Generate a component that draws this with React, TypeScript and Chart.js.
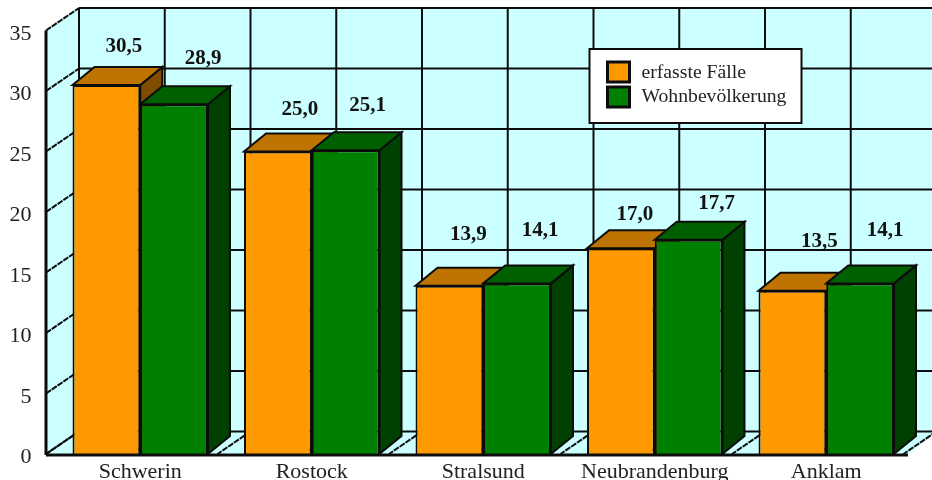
import React, { useEffect, useRef } from "react";
import { Chart, registerables } from "chart.js";

Chart.register(...registerables);

const cities = ["Schwerin", "Rostock", "Stralsund", "Neubrandenburg", "Anklam"];
const erfassteFaelle = [30.5, 25.0, 13.9, 17.0, 13.5];
const wohnbevoelkerung = [28.9, 25.1, 14.1, 17.7, 14.1];
const seriesNames = ["erfasste Fälle", "Wohnbevölkerung"];

// Value captions sit at hand-set distances from each bar's top-centre.
const captionShiftA = [[17.5, -38], [22, -41.5], [19, -51], [14, -34], [27, -49.5]];
const captionShiftB = [[29, -46], [22, -45], [23, -53], [28, -36], [25, -53]];

const FONT = "'Liberation Serif', serif";
const WALL = "#ccffff";
const INK = "#0c0c0c";
const FACES = [
  { front: "#ff9900", top: "#bf7300", side: "#804d00" },
  { front: "#008000", top: "#006000", side: "#004000" },
];

const fillPoly = (ctx: CanvasRenderingContext2D, pts: number[][], fill: string) => {
  ctx.beginPath();
  pts.forEach(([x, y], i) => (i ? ctx.lineTo(x, y) : ctx.moveTo(x, y)));
  ctx.closePath();
  ctx.fillStyle = fill;
  ctx.fill();
  ctx.strokeStyle = INK;
  ctx.lineWidth = 2;
  ctx.stroke();
};

const line = (ctx: CanvasRenderingContext2D, x1: number, y1: number, x2: number, y2: number) => {
  ctx.beginPath();
  ctx.moveTo(x1, y1);
  ctx.lineTo(x2, y2);
  ctx.stroke();
};

// Scales keep an exact size here, with no extra room for overhanging tick labels.
const fixedBox = (size: Partial<{ width: number; height: number }>) => (s: any) => {
  Object.assign(s, size);
  s.paddingTop = s.paddingBottom = s.paddingLeft = s.paddingRight = 0;
};

// Box back wall, left wall and floor with their grid, all derived from the scales.
const roomPlugin = {
  id: "room",
  beforeDatasetsDraw(chart: any) {
    const { ctx, chartArea: a, scales } = chart;
    const dx = 33;
    const dy = 22.5;
    const yTop = scales.y.getPixelForValue(35);
    const yBase = scales.y.getPixelForValue(0);
    const frontL = a.left - 8.5;
    const frontR = a.right - 4;
    const backL = frontL + dx;
    const backR = a.right + 24;
    const halfStep = (scales.x.getPixelForValue(1) - scales.x.getPixelForValue(0)) / 2;

    ctx.save();
    ctx.fillStyle = WALL;
    ctx.fillRect(backL, yTop - dy, backR - backL, yBase - yTop);
    ctx.beginPath();
    ctx.moveTo(frontL, yTop);
    ctx.lineTo(backL, yTop - dy);
    ctx.lineTo(backL, yBase - dy);
    ctx.lineTo(backR, yBase - dy);
    ctx.lineTo(frontR, yBase + 1);
    ctx.lineTo(frontL, yBase + 1);
    ctx.closePath();
    ctx.fill();

    ctx.strokeStyle = INK;
    ctx.lineWidth = 2;
    scales.y.ticks.forEach((t: any) => {
      const y = scales.y.getPixelForValue(t.value);
      line(ctx, backL, y - dy, backR, y - dy);
      ctx.setLineDash([6, 1]);
      line(ctx, frontL, y, backL, y - dy);
      ctx.setLineDash([]);
    });
    for (let k = 0; k <= 10; k++) {
      const x = backL + k * halfStep;
      line(ctx, x, yTop - dy, x, yBase - dy);
      ctx.setLineDash([6, 1]);
      line(ctx, x, yBase - dy, x - dx, yBase);
      ctx.setLineDash([]);
    }
    ctx.lineWidth = 3;
    line(ctx, frontL, yTop, frontL, yBase + 1);
    ctx.restore();
    ctx.save();

    // Extruded top and side faces of each bar, series by series.
    const bx = 22;
    const by = 18;
    chart.data.datasets.forEach((_: any, di: number) => {
      chart.getDatasetMeta(di).data.forEach((bar: any) => {
        const l = bar.x - bar.width / 2;
        const r = bar.x + bar.width / 2;
        const t = bar.y;
        const b = bar.base;
        fillPoly(ctx, [[r, t], [r + bx, t - by], [r + bx, b - by], [r, b]], FACES[di].side);
        fillPoly(ctx, [[l, t], [l + bx, t - by], [r + bx, t - by], [r, t]], FACES[di].top);
      });
    });
    ctx.restore();
  },
  afterDatasetsDraw(chart: any) {
    const { ctx, chartArea: a, scales } = chart;
    const yBase = scales.y.getPixelForValue(0);
    ctx.save();
    ctx.strokeStyle = INK;
    ctx.lineWidth = 3;
    line(ctx, a.left - 8.5, yBase + 1, a.right - 4, yBase + 1);

    // Value captions with a decimal comma.
    ctx.font = `bold 21px ${FONT}`;
    ctx.fillStyle = "#111";
    ctx.textAlign = "center";
    ctx.textBaseline = "middle";
    [captionShiftA, captionShiftB].forEach((shifts, di) => {
      chart.getDatasetMeta(di).data.forEach((bar: any, i: number) => {
        const text = chart.data.datasets[di].data[i].toFixed(1).replace(".", ",");
        ctx.fillText(text, bar.x + shifts[i][0], bar.y + shifts[i][1]);
      });
    });

    // Legend box placed on the back wall.
    const lx = a.left + 535;
    const ly = 49;
    ctx.fillStyle = "#fff";
    ctx.lineWidth = 2;
    ctx.fillRect(lx, ly, 212, 74);
    ctx.strokeRect(lx, ly, 212, 74);
    ctx.font = `19.7px ${FONT}`;
    ctx.textAlign = "left";
    chart.data.datasets.forEach((ds: any, di: number) => {
      const y = ly + 24 + di * 24;
      ctx.fillStyle = ds.backgroundColor;
      ctx.lineWidth = 3;
      ctx.fillRect(lx + 18, y - 11 + di, 22, 20);
      ctx.strokeRect(lx + 18, y - 11 + di, 22, 20);
      ctx.fillStyle = "#222";
      ctx.fillText(ds.label, lx + 52, y);
    });
    ctx.restore();
  },
};

export default function App() {
  const ref = useRef<HTMLCanvasElement>(null);

  useEffect(() => {
    const chart = new Chart(ref.current!, {
      type: "bar",
      data: {
        labels: cities,
        datasets: [
          { label: seriesNames[0], data: erfassteFaelle, backgroundColor: FACES[0].front },
          { label: seriesNames[1], data: wohnbevoelkerung, backgroundColor: FACES[1].front },
        ],
      },
      plugins: [roomPlugin],
      options: {
        responsive: false,
        maintainAspectRatio: false,
        animation: false,
        layout: { autoPadding: false, padding: { top: 30.5, right: 20, left: 0, bottom: 0 } },
        datasets: {
          bar: {
            categoryPercentage: 0.79,
            barPercentage: 1,
            borderColor: INK,
            borderWidth: 2,
          },
        },
        plugins: { legend: { display: false }, tooltip: { enabled: false } },
        scales: {
          x: {
            afterFit: fixedBox({ height: 26 }),
            grid: { display: false, drawTicks: false },
            border: { display: false },
            ticks: {
              autoSkip: false,
              maxRotation: 0,
              padding: 5,
              color: "#222",
              font: { family: FONT, size: 22 },
            },
          },
          y: {
            min: 0,
            max: 35,
            afterFit: fixedBox({ width: 54.5 }),
            grid: { display: false, drawTicks: false },
            border: { display: false },
            ticks: {
              stepSize: 5,
              padding: 23,
              labelOffset: 3.5,
              color: "#222",
              font: { family: FONT, size: 22 },
            },
          },
        },
      },
    } as any);
    return () => chart.destroy();
  }, []);

  return (
    <div style={{ position: "absolute", left: 0, top: 0, width: 932, height: 480, overflow: "hidden" }}>
      <canvas ref={ref} width={932} height={480} style={{ display: "block" }} />
    </div>
  );
}
